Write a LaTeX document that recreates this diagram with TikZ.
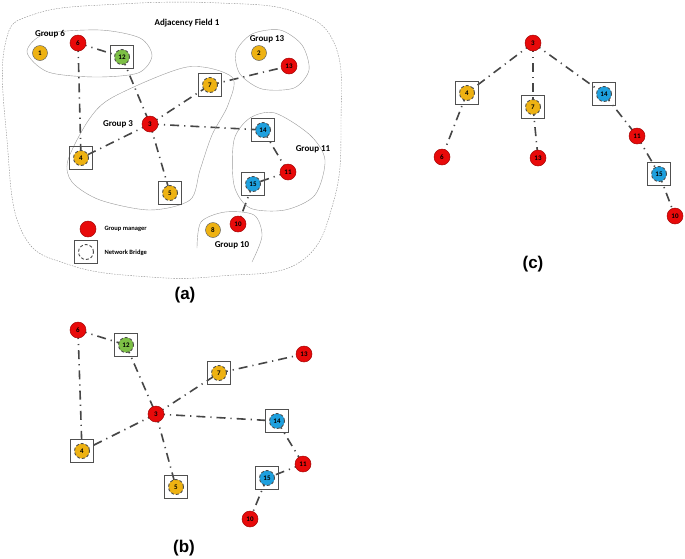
\documentclass[tikz,border=0pt]{standalone}
\usepackage{fontspec}
\setmainfont{Carlito}
\newfontfamily\capfont{Liberation Sans}
\usetikzlibrary{backgrounds}

\definecolor{mgrred}{RGB}{232,10,10}
\definecolor{memyel}{RGB}{238,178,18}
\definecolor{brgreen}{RGB}{125,192,70}
\definecolor{brblue}{RGB}{30,160,222}
\definecolor{boxgray}{RGB}{80,80,80}
\definecolor{linkgray}{RGB}{70,70,70}

\tikzset{
  mgr/.style={circle, fill=mgrred, draw=mgrred!70!black, line width=0.5pt,
              minimum size=16pt, inner sep=0pt, font=\fontsize{7}{7}\selectfont\bfseries},
  member/.style={circle, fill=memyel, draw=black!60, line width=0.5pt,
              minimum size=15pt, inner sep=0pt, font=\fontsize{7}{7}\selectfont\bfseries},
  bridge/.style={rectangle, draw=boxgray, line width=1.2pt, minimum size=23pt,
              inner sep=0pt, font=\fontsize{7}{7}\selectfont\bfseries,
              path picture={\draw[fill=#1, draw=black!70, densely dashed, line width=0.9pt]
                (path picture bounding box.center) circle (7.5pt);}},
  link/.style={draw=linkgray, line width=1.6pt,
              dash pattern=on 9pt off 5pt on 1.2pt off 5pt},
  blob/.style={draw=black!40, line width=0.4pt},
  grp/.style={font=\fontsize{9}{10}\selectfont\bfseries},
  legend/.style={font=\fontsize{6.5}{7}\selectfont\bfseries, anchor=west},
  caption/.style={font=\capfont\fontsize{17}{18}\selectfont\bfseries}
}

\begin{document}
\begin{tikzpicture}[x=1pt, y=-1pt]
  \useasboundingbox (0,0) rectangle (685,558);

  % panel (a): field and groups
  \draw[draw=black!45, line width=0.4pt, dash pattern=on 1.5pt off 1.2pt]
    plot[smooth cycle, tension=0.7] coordinates {(5,45) (35,14) (120,4) (220,3)
    (295,12) (335,45) (341,120) (334,200) (300,262) (220,276) (150,277)
    (70,265) (22,232) (7,140)};
  \draw[blob] plot[smooth cycle] coordinates {(27,52) (45,34) (100,30) (140,38)
    (152,56) (138,73) (95,77) (48,72)};
  \draw[blob] plot[smooth cycle] coordinates {(236,52) (252,34) (280,30) (302,45)
    (309,70) (294,88) (262,89) (240,74)};
  \draw[blob] plot[smooth cycle] coordinates {(68,160) (90,118) (115,96) (187,67)
    (232,77) (228,105) (212,135) (200,170) (190,200) (150,210) (100,200) (72,182)};
  \draw[blob] plot[smooth cycle] coordinates {(234,140) (250,118) (275,113) (310,135)
    (325,160) (315,195) (285,210) (250,208) (234,185)};
  \draw[blob] plot[smooth] coordinates {(197,248) (201,222) (225,212) (254,215)
    (262,236) (252,262)};

  \node[grp] (fieldlbl) at (187,23) {Adjacency Field 1};
  \node[grp] (g6lbl) at (50,34) {Group 6};
  \node[grp] (g13lbl) at (267,39) {Group 13};
  \node[grp] (g3lbl) at (118,124) {Group 3};
  \node[grp] (g11lbl) at (313,149) {Group 11};
  \node[grp] (g10lbl) at (232,245) {Group 10};

  \node[member] (a1) at (40,53) {1};
  \node[mgr] (a6) at (78,43) {6};
  \node[bridge=brgreen] (a12) at (122,57) {12};
  \node[member] (a2) at (259,53) {2};
  \node[mgr] (a13) at (289,66) {13};
  \node[bridge=memyel] (a7) at (210,85) {7};
  \node[mgr] (a3) at (150,124) {3};
  \node[bridge=brblue] (a14) at (263,130) {14};
  \node[bridge=memyel] (a4) at (81,158) {4};
  \node[mgr] (a11) at (288,172) {11};
  \node[bridge=brblue] (a15) at (253,184) {15};
  \node[bridge=memyel] (a5) at (170,193) {5};
  \node[member] (a8) at (213,230) {8};
  \node[mgr] (a10) at (238,224) {10};

  \begin{scope}[on background layer]
    \foreach \u/\v in {6/12, 6/4, 12/3, 3/7, 7/13, 3/4, 3/14, 3/5, 14/11, 11/15, 15/10}
      \draw[link] (a\u.center) -- (a\v.center);
  \end{scope}

  % legend
  \node[mgr] (legmgr) at (88,229) {};
  \node[legend] (legmgrtxt) at (101,229) {Group manager};
  \node[bridge=white] (legbr) at (86,252) {};
  \node[legend] (legbrtxt) at (101,253) {Network Bridge};
  \node[caption] (capa) at (185,295) {(a)};

  % panel (b)
  \node[mgr] (b6) at (78,330) {6};
  \node[bridge=brgreen] (b12) at (126,345) {12};
  \node[mgr] (b13) at (304,354) {13};
  \node[bridge=memyel] (b7) at (219,373) {7};
  \node[mgr] (b3) at (156,414) {3};
  \node[bridge=brblue] (b14) at (277,421) {14};
  \node[bridge=memyel] (b4) at (82,451) {4};
  \node[mgr] (b11) at (303,464) {11};
  \node[bridge=brblue] (b15) at (267,478) {15};
  \node[bridge=memyel] (b5) at (176,487) {5};
  \node[mgr] (b10) at (250,519) {10};

  \begin{scope}[on background layer]
    \foreach \u/\v in {6/12, 6/4, 12/3, 3/7, 7/13, 3/4, 3/14, 3/5, 14/11, 11/15, 15/10}
      \draw[link] (b\u.center) -- (b\v.center);
  \end{scope}
  \node[caption] (capb) at (184,548) {(b)};

  % panel (c): tree
  \node[mgr] (c3) at (533,43) {3};
  \node[bridge=memyel] (c4) at (467,93) {4};
  \node[bridge=memyel] (c7) at (533,107) {7};
  \node[bridge=brblue] (c14) at (604,94) {14};
  \node[mgr] (c6) at (442,157) {6};
  \node[mgr] (c13) at (538,158) {13};
  \node[mgr] (c11) at (637,136) {11};
  \node[bridge=brblue] (c15) at (659,174) {15};
  \node[mgr] (c10) at (675,216) {10};

  \begin{scope}[on background layer]
    \foreach \u/\v in {3/4, 3/7, 3/14, 4/6, 7/13, 14/11, 11/15, 15/10}
      \draw[link] (c\u.center) -- (c\v.center);
  \end{scope}
  \node[caption] (capc) at (533,264) {(c)};
\end{tikzpicture}
\end{document}
